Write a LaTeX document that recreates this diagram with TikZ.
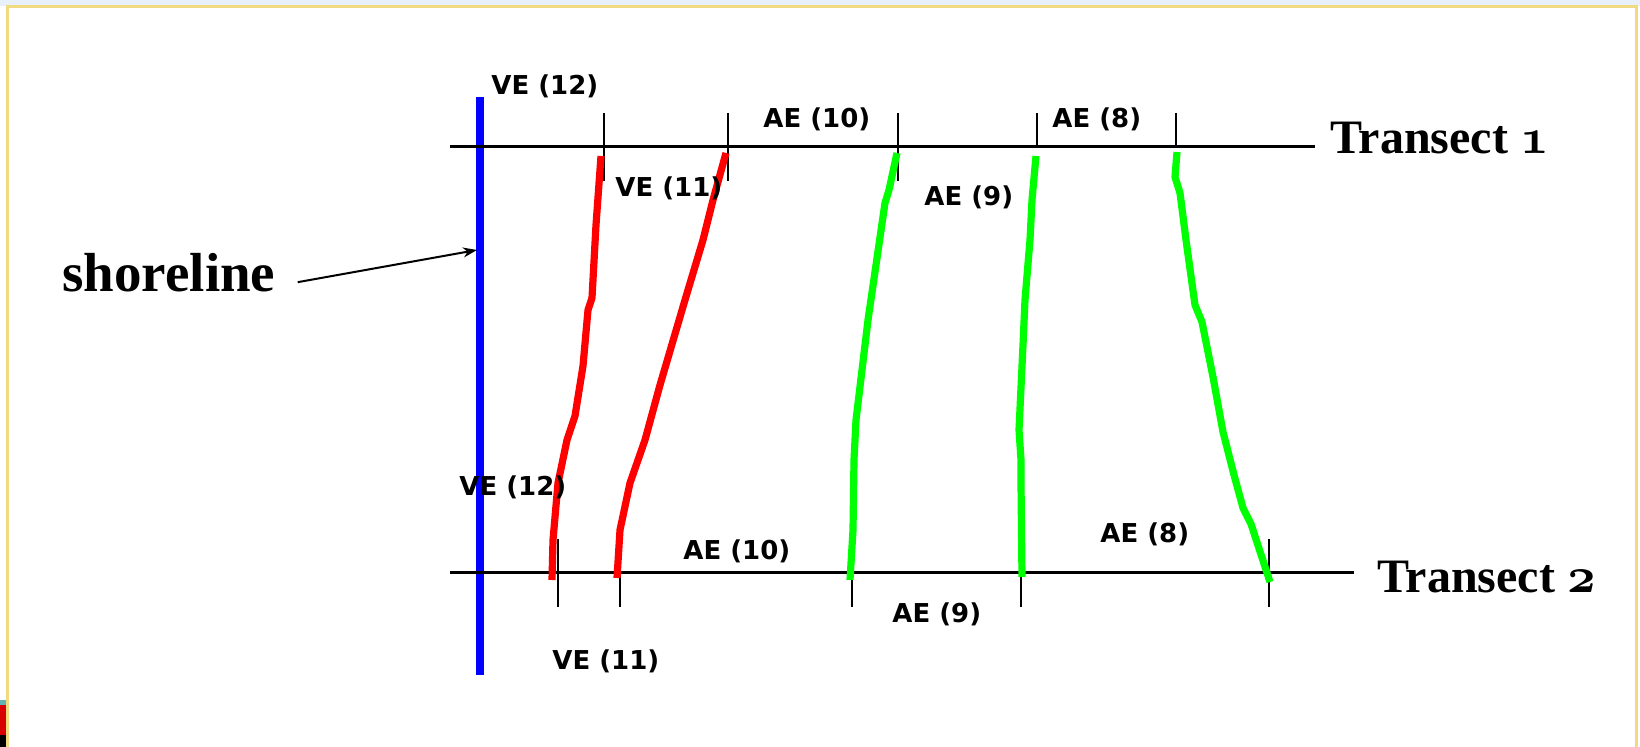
\documentclass[tikz,border=0pt]{standalone}
\usepackage{fontspec}
\setmainfont{Liberation Serif}
\newfontfamily\tagfont{DejaVu Sans}
\usetikzlibrary{arrows.meta}
\definecolor{framesky}{RGB}{232,240,252}
\definecolor{framegold}{RGB}{240,218,130}
% old style figures for the transect names
\newcommand\osfig[1]{{\fontencoding{OML}\fontfamily{cmm}\fontseries{b}\fontshape{it}\selectfont #1}}

\begin{document}
\begin{tikzpicture}[x=0.5pt,y=-0.5pt,
		transect/.style={line width=1.5pt},
		tick/.style={line width=1pt},
		shoreline/.style={blue,line width=4pt},
		vegedge/.style={red,line width=3.6pt,line join=round},
		aquaedge/.style={green,line width=3.6pt,line join=round},
		pointer/.style={line width=1pt,-{Stealth[length=7pt,width=5pt]}},
		edgetag/.style={font=\tagfont\bfseries\fontsize{13}{15}\selectfont,inner sep=0pt,anchor=base west},
		bigname/.style={font=\bfseries\fontsize{24}{28}\selectfont,inner sep=0pt,anchor=base west}]
		\useasboundingbox (0,0) rectangle (1640,747);

		% slide frame
		\fill[framesky] (0,0) rectangle (1640,6);
		\draw[framegold,line width=1.5pt] (7,747) -- (7,7) -- (1636,7) -- (1636,747);
		\fill[teal!60] (0,700) rectangle (6,705);
		\fill[red!85!black] (0,705) rectangle (6,735);
		\fill[black] (0,735) rectangle (6,747);

		% shoreline and transects
		\draw[shoreline] (480,97) -- (480,675);
		\draw[transect] (450,147) -- (1315,147);
		\draw[transect] (450,573) -- (1354,573);

		\foreach \x in {604,728,898}{
			\draw[tick] (\x,113) -- (\x,181);
			}
		\foreach \x in {1037,1176}{
			\draw[tick] (\x,113) -- (\x,147);
			}
		\foreach \x in {558,1269}{
			\draw[tick] (\x,539) -- (\x,607);
			}
		\foreach \x in {620,852,1021}{
			\draw[tick] (\x,573) -- (\x,607);
			}

		% vegetation edges
		\draw[vegedge] (601,156) -- (596,225) -- (592,298) -- (588,310) -- (583,366) -- (575,416) -- (567,440) -- (558,483) -- (553,540) -- (552,580);
		\draw[vegedge] (726,153) -- (713,200) -- (703,240) -- (685,300) -- (660,385) -- (645,440) -- (630,483) -- (620,530) -- (617,578);

		% aquatic edges
		\draw[aquaedge] (897,153) -- (889,190) -- (885,203) -- (868,320) -- (856,420) -- (854,460) -- (853,530) -- (850,580);
		\draw[aquaedge] (1036,156) -- (1032,200) -- (1030,240) -- (1025,300) -- (1023,345) -- (1019,430) -- (1021,460) -- (1021,483) -- (1022,577);
		\draw[aquaedge] (1177,152) -- (1175,177) -- (1180,193) -- (1186,240) -- (1195,305) -- (1202,322) -- (1213,377) -- (1223,432) -- (1234,475) -- (1243,508) -- (1251,524) -- (1270,582);

		% labels
		\node[edgetag] (vetwelvetop) at (491,95) {VE (12)};
		\node[edgetag] (aetentop) at (763,128) {AE (10)};
		\node[edgetag] (veeleventop) at (615,197) {VE (11)};
		\node[edgetag] (aeeighttop) at (1052,128) {AE (8)};
		\node[edgetag] (aeninetop) at (924,206) {AE (9)};
		\node[edgetag] (vetwelvebot) at (459,496) {VE (12)};
		\node[edgetag] (aetenbot) at (683,560) {AE (10)};
		\node[edgetag] (veelevenbot) at (552,670) {VE (11)};
		\node[edgetag] (aeeightbot) at (1100,543) {AE (8)};
		\node[edgetag] (aeninebot) at (892,623) {AE (9)};

		\node[bigname] (transone) at (1330,154) {Transect \osfig{1}};
		\node[bigname] (transtwo) at (1377,593) {Transect \osfig{2}};
		\node[bigname,font=\bfseries\fontsize{27.5}{31}\selectfont] (shorelabel) at (62,292) {shoreline};

		\coordinate (shorehit) at (477,250);
		\draw[pointer] ([shift={(22,9)}]shorelabel.east) -- (shorehit);
	\end{tikzpicture}
\end{document}
